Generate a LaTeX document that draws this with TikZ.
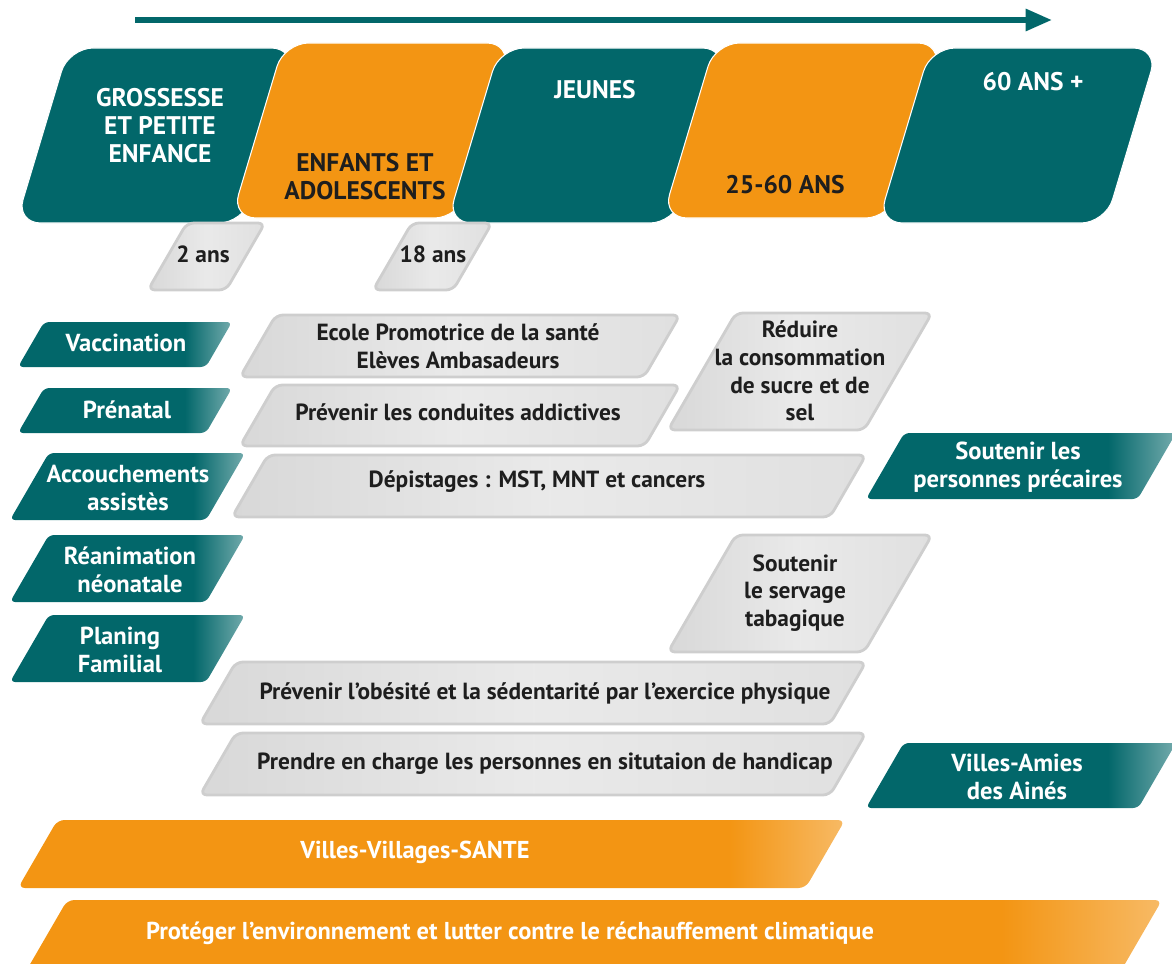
\documentclass[tikz,border=0pt]{standalone}
\usepackage{fontspec}
\setmainfont{PT Sans}
\usetikzlibrary{arrows.meta}

\definecolor{tealc}{HTML}{02676A}
\definecolor{oranc}{HTML}{F39513}
\definecolor{grayc}{HTML}{D8D8D8}
\definecolor{grayd}{HTML}{CECECE}
\definecolor{inkc}{HTML}{1E1E1E}

\pgfdeclarehorizontalshading{tealshine}{100bp}{color(0bp)=(tealc); color(25bp)=(tealc); color(64bp)=(tealc); color(75bp)=(tealc!55!white); color(100bp)=(tealc!55!white)}
\pgfdeclarehorizontalshading{oranshine}{100bp}{color(0bp)=(oranc); color(25bp)=(oranc); color(68bp)=(oranc); color(75bp)=(oranc!65!white); color(100bp)=(oranc!65!white)}
\pgfdeclarehorizontalshading{grayshine}{100bp}{color(0bp)=(grayc); color(25bp)=(grayc); color(50bp)=(grayc!55!white); color(75bp)=(grayc!80!white); color(100bp)=(grayc!80!white)}

% slanted box: [style]{bottom-left x}{bottom y}{top-right x}{top y}
\def\slabslope{0.58}
\newcommand{\slab}[5][]{%
  \pgfmathsetmacro\slantx{\slabslope*(#3-#5)}
  \path[#1] (#2,#3) -- (#2+\slantx,#5) -- (#4,#5) -- (#4-\slantx,#3) -- cycle;
}

\begin{document}
\begin{tikzpicture}[
    x=0.02cm, y=-0.02cm,
    topteal/.style={fill=tealc, draw=white, line width=0.6pt, rounded corners=14pt},
    toporan/.style={fill=oranc, draw=white, line width=0.6pt, rounded corners=14pt},
    tealtag/.style={shading=tealshine, rounded corners=3pt},
    graybox/.style={shading=grayshine, draw=grayd, line width=1.6pt, rounded corners=4pt},
    oranbar/.style={shading=oranshine, rounded corners=4pt},
    timeline/.style={draw=tealc, line width=3.2pt, -{Triangle[length=15pt,width=12pt]}},
    toptxt/.style={font=\fontsize{14.5}{15.9}\selectfont\bfseries, align=center, text=white},
    tagtxt/.style={font=\fontsize{14}{15.9}\selectfont\bfseries, align=center, text=white},
    graytxt/.style={font=\fontsize{13.3}{15.7}\selectfont\bfseries, align=center, text=inkc},
    bartxt/.style={font=\fontsize{13.9}{15}\selectfont\bfseries, align=center, text=white},
]
    \path[use as bounding box, clip] (0,0) rectangle (1172,963);

    % time arrow
    \coordinate (tstart) at (135,20);
    \coordinate (tend)   at (1052,20);
    \draw[timeline] (tstart) -- (tend);

    % age groups
    \def\slabslope{0.3}
    \slab[topteal]{16}{223}{296}{48}
    \slab[toporan]{231.5}{218}{511.5}{43}
    \slab[topteal]{447}{223}{727}{48}
    \slab[toporan]{662.5}{218}{942.5}{43}
    \slab[topteal]{878}{223}{1158}{48}

    \node[toptxt]             (grossesse) at (160,126) {GROSSESSE\\ET PETITE\\ENFANCE};
    \node[toptxt, text=inkc]  (enfants)   at (365,177) {ENFANTS ET\\ADOLESCENTS};
    \node[toptxt]             (jeunes)    at (595,90)  {JEUNES};
    \node[toptxt, text=inkc]  (adultes)   at (785,185) {25-60 ANS};
    \node[toptxt]             (seniors)   at (1033,82) {60 ANS +};

    % ages
    \def\slabslope{0.58}
    \slab[graybox]{148}{290}{265}{223}
    \slab[graybox]{373}{290}{492}{223}
    \node[graytxt] (age2)  at (203,254) {2 ans};
    \node[graytxt] (age18) at (433,254) {18 ans};

    % left column
    \slab[tealtag]{18}{367}{232}{322}
    \slab[tealtag]{18}{433}{232}{388}
    \slab[tealtag]{10}{520}{245}{453}
    \slab[tealtag]{10}{602}{245}{535}
    \slab[tealtag]{10}{682}{245}{615}
    \node[tagtxt] (vacc)    at (126,343) {Vaccination};
    \node[tagtxt] (prenat)  at (127,410) {Prénatal};
    \node[tagtxt] (accouch) at (128,488) {Accouchements\\assistès};
    \node[tagtxt] (reanim)  at (130,570) {Réanimation\\néonatale};
    \node[tagtxt] (planing) at (120,650) {Planing\\Familial};

    % actions
    \slab[graybox]{240}{377}{680}{315}
    \slab[graybox]{240}{446}{680}{385}
    \slab[graybox]{668}{430}{932}{313}
    \slab[graybox]{232}{517}{866}{455}
    \slab[graybox]{668}{652}{932}{535}
    \slab[graybox]{200}{724}{866}{662}
    \slab[graybox]{200}{795}{866}{733}
    \node[graytxt] (ecole)    at (458,346) {Ecole Promotrice de la santé\\Elèves Ambasadeurs};
    \node[graytxt] (addict)   at (458,412) {Prévenir les conduites addictives};
    \node[graytxt] (sucre)    at (800,371) {Réduire\\la consommation\\de sucre et de\\sel};
    \node[graytxt] (depist)   at (537,482) {Dépistages : MST, MNT et cancers};
    \node[graytxt] (tabac)    at (795,593) {Soutenir\\le servage\\tabagique};
    \node[graytxt] (obesite)  at (545,693) {Prévenir l’obésité et la sédentarité par l’exercice physique};
    \node[graytxt] (handicap) at (545,764) {Prendre en charge les personnes en situtaion de handicap};

    % right column
    \slab[tealtag]{866}{499}{1176}{433}
    \slab[tealtag]{866}{808}{1176}{743}
    \node[tagtxt] (precaires) at (1018,467) {Soutenir les\\personnes précaires};
    \node[tagtxt] (amies)     at (1017,777) {Villes-Amies\\des Ainés};

    % transversal
    \slab[oranbar]{18}{888}{845}{820}
    \slab[oranbar]{18}{985}{1162}{900}
    \node[bartxt] (vvs) at (415,852) {Villes-Villages-SANTE};
    \node[bartxt] (env) at (510,933) {Protéger l’environnement et lutter contre le réchauffement climatique};
\end{tikzpicture}
\end{document}
